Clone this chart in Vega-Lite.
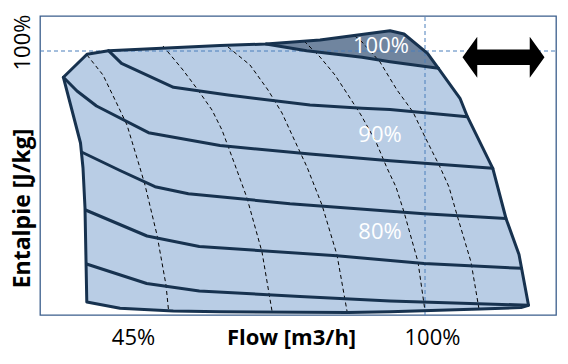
{
  "$schema": "https://vega.github.io/schema/vega-lite/v6.json",
  "width": 516,
  "height": 299,
  "autosize": "none",
  "padding": {"left": 40, "top": 16, "right": 12, "bottom": 49},
  "background": "white",
  "config": {
    "view": {"stroke": "#3b5e8c", "strokeWidth": 1.3},
    "font": "Open Sans"
  },
  "datasets": {
    "curves": [
      {"c": "o", "i": 1, "x": 23.4, "y": 237.7},
      {"c": "o", "i": 2, "x": 47, "y": 260.7},
      {"c": "o", "i": 3, "x": 68.5, "y": 264.3},
      {"c": "o", "i": 4, "x": 180, "y": 269.5},
      {"c": "o", "i": 5, "x": 226, "y": 271},
      {"c": "o", "i": 6, "x": 280, "y": 275},
      {"c": "o", "i": 7, "x": 350, "y": 284.3},
      {"c": "o", "i": 8, "x": 364, "y": 281},
      {"c": "o", "i": 9, "x": 387.5, "y": 261.7},
      {"c": "o", "i": 10, "x": 398.4, "y": 246.7},
      {"c": "o", "i": 11, "x": 420, "y": 216.7},
      {"c": "o", "i": 12, "x": 427.4, "y": 198.3},
      {"c": "o", "i": 13, "x": 452.8, "y": 146.7},
      {"c": "o", "i": 14, "x": 466, "y": 96.5},
      {"c": "o", "i": 15, "x": 479, "y": 60.5},
      {"c": "o", "i": 16, "x": 488.5, "y": 9.8},
      {"c": "o", "i": 17, "x": 481, "y": 7.5},
      {"c": "o", "i": 18, "x": 440, "y": 6},
      {"c": "o", "i": 19, "x": 350, "y": 3.3},
      {"c": "o", "i": 20, "x": 308, "y": 2.5},
      {"c": "o", "i": 21, "x": 180, "y": 3.3},
      {"c": "o", "i": 22, "x": 133.3, "y": 4},
      {"c": "o", "i": 23, "x": 80, "y": 6.7},
      {"c": "o", "i": 24, "x": 46.8, "y": 13},
      {"c": "o", "i": 25, "x": 45, "y": 107},
      {"c": "o", "i": 26, "x": 43, "y": 147},
      {"c": "o", "i": 27, "x": 40.5, "y": 172},
      {"c": "o", "i": 28, "x": 23.4, "y": 237.7},
      {"c": "s1", "i": 1, "x": 226, "y": 271},
      {"c": "s1", "i": 2, "x": 266.7, "y": 264.3},
      {"c": "s1", "i": 3, "x": 322, "y": 257.7},
      {"c": "s1", "i": 4, "x": 350, "y": 253.3},
      {"c": "s1", "i": 5, "x": 398.4, "y": 246.7},
      {"c": "s2", "i": 1, "x": 68.5, "y": 264.3},
      {"c": "s2", "i": 2, "x": 81.5, "y": 251.7},
      {"c": "s2", "i": 3, "x": 133.5, "y": 227.7},
      {"c": "s2", "i": 4, "x": 188, "y": 220},
      {"c": "s2", "i": 5, "x": 270, "y": 210},
      {"c": "s2", "i": 6, "x": 322, "y": 206.7},
      {"c": "s2", "i": 7, "x": 350, "y": 205.5},
      {"c": "s2", "i": 8, "x": 427.4, "y": 198.3},
      {"c": "s3", "i": 1, "x": 23.4, "y": 237.7},
      {"c": "s3", "i": 2, "x": 37, "y": 224},
      {"c": "s3", "i": 3, "x": 56.5, "y": 209},
      {"c": "s3", "i": 4, "x": 108.5, "y": 182.3},
      {"c": "s3", "i": 5, "x": 180, "y": 169.5},
      {"c": "s3", "i": 6, "x": 270, "y": 161},
      {"c": "s3", "i": 7, "x": 350, "y": 154.3},
      {"c": "s3", "i": 8, "x": 452.8, "y": 146.7},
      {"c": "s4", "i": 1, "x": 41.5, "y": 163},
      {"c": "s4", "i": 2, "x": 80, "y": 144.5},
      {"c": "s4", "i": 3, "x": 115, "y": 128.3},
      {"c": "s4", "i": 4, "x": 148.4, "y": 121.3},
      {"c": "s4", "i": 5, "x": 250, "y": 111.3},
      {"c": "s4", "i": 6, "x": 384, "y": 101.3},
      {"c": "s4", "i": 7, "x": 466, "y": 96.5},
      {"c": "s5", "i": 1, "x": 45.5, "y": 105},
      {"c": "s5", "i": 2, "x": 107, "y": 79},
      {"c": "s5", "i": 3, "x": 159.3, "y": 68.5},
      {"c": "s5", "i": 4, "x": 296.7, "y": 59.3},
      {"c": "s5", "i": 5, "x": 384, "y": 51.5},
      {"c": "s5", "i": 6, "x": 481.5, "y": 46.7},
      {"c": "s6", "i": 1, "x": 46.5, "y": 51},
      {"c": "s6", "i": 2, "x": 106.7, "y": 31.5},
      {"c": "s6", "i": 3, "x": 159.3, "y": 24},
      {"c": "s6", "i": 4, "x": 260, "y": 18.5},
      {"c": "s6", "i": 5, "x": 350, "y": 14},
      {"c": "s6", "i": 6, "x": 488.5, "y": 9.8}
    ],
    "dark": [
      {"i": 1, "x": 226, "y": 271},
      {"i": 2, "x": 280, "y": 275},
      {"i": 3, "x": 350, "y": 284.3},
      {"i": 4, "x": 364, "y": 281},
      {"i": 5, "x": 387.5, "y": 261.7},
      {"i": 6, "x": 398.4, "y": 246.7},
      {"i": 7, "x": 350, "y": 253.3},
      {"i": 8, "x": 322, "y": 257.7},
      {"i": 9, "x": 266.7, "y": 264.3},
      {"i": 10, "x": 226, "y": 271}
    ],
    "dashes": [
      {"d": "d1", "i": 1, "x": 47, "y": 260},
      {"d": "d1", "i": 2, "x": 63, "y": 240},
      {"d": "d1", "i": 3, "x": 78, "y": 209},
      {"d": "d1", "i": 4, "x": 87, "y": 190},
      {"d": "d1", "i": 5, "x": 100, "y": 147},
      {"d": "d1", "i": 6, "x": 105, "y": 130},
      {"d": "d1", "i": 7, "x": 117, "y": 80},
      {"d": "d1", "i": 8, "x": 126, "y": 30},
      {"d": "d1", "i": 9, "x": 128.5, "y": 5},
      {"d": "d2", "i": 1, "x": 123, "y": 269},
      {"d": "d2", "i": 2, "x": 143, "y": 245},
      {"d": "d2", "i": 3, "x": 158, "y": 225},
      {"d": "d2", "i": 4, "x": 172, "y": 205},
      {"d": "d2", "i": 5, "x": 182, "y": 185},
      {"d": "d2", "i": 6, "x": 195, "y": 150},
      {"d": "d2", "i": 7, "x": 207, "y": 117},
      {"d": "d2", "i": 8, "x": 222, "y": 63},
      {"d": "d2", "i": 9, "x": 232, "y": 4},
      {"d": "d3", "i": 1, "x": 188, "y": 268},
      {"d": "d3", "i": 2, "x": 210, "y": 250},
      {"d": "d3", "i": 3, "x": 228, "y": 225},
      {"d": "d3", "i": 4, "x": 242, "y": 202},
      {"d": "d3", "i": 5, "x": 253, "y": 178},
      {"d": "d3", "i": 6, "x": 267, "y": 148},
      {"d": "d3", "i": 7, "x": 282, "y": 110},
      {"d": "d3", "i": 8, "x": 297, "y": 60},
      {"d": "d3", "i": 9, "x": 307, "y": 4},
      {"d": "d4", "i": 1, "x": 264, "y": 274},
      {"d": "d4", "i": 2, "x": 280, "y": 258},
      {"d": "d4", "i": 3, "x": 295, "y": 240},
      {"d": "d4", "i": 4, "x": 310, "y": 217},
      {"d": "d4", "i": 5, "x": 321, "y": 200},
      {"d": "d4", "i": 6, "x": 336, "y": 173},
      {"d": "d4", "i": 7, "x": 347, "y": 147},
      {"d": "d4", "i": 8, "x": 356, "y": 128},
      {"d": "d4", "i": 9, "x": 364, "y": 103},
      {"d": "d4", "i": 10, "x": 378, "y": 53},
      {"d": "d4", "i": 11, "x": 385, "y": 4},
      {"d": "d5", "i": 1, "x": 315, "y": 279},
      {"d": "d5", "i": 2, "x": 322, "y": 273},
      {"d": "d5", "i": 3, "x": 340, "y": 253},
      {"d": "d5", "i": 4, "x": 357, "y": 225},
      {"d": "d5", "i": 5, "x": 373, "y": 203},
      {"d": "d5", "i": 6, "x": 385, "y": 178},
      {"d": "d5", "i": 7, "x": 400, "y": 148},
      {"d": "d5", "i": 8, "x": 409, "y": 128},
      {"d": "d5", "i": 9, "x": 417, "y": 100},
      {"d": "d5", "i": 10, "x": 431, "y": 53},
      {"d": "d5", "i": 11, "x": 439, "y": 6}
    ],
    "refs": [
      {"x": 385, "x2": 385, "y": 0, "y2": 299},
      {"x": 0, "x2": 516, "y": 264, "y2": 264}
    ],
    "labels": [
      {"x": 341, "y": 269, "text": "100%"},
      {"x": 340, "y": 180, "text": "90%"},
      {"x": 340, "y": 83, "text": "80%"}
    ],
    "arrow": [
      {"x": 463.5, "y": 257.7}
    ]
  },
  "encoding": {
    "x": {
      "field": "x",
      "type": "quantitative",
      "scale": {"domain": [0, 516], "nice": false, "zero": false},
      "axis": {
        "values": [93, 392],
        "labelExpr": "datum.value < 200 ? '45%' : '100%'",
        "grid": false,
        "domain": false,
        "ticks": false,
        "tickSize": 0,
        "labelFlush": false,
        "labelFont": "Open Sans",
        "labelFontSize": 22,
        "labelColor": "#000000",
        "labelBaseline": "middle",
        "labelPadding": 22,
        "title": "Flow [m3/h]",
        "titleFont": "Open Sans",
        "titleFontSize": 22,
        "titleFontWeight": "bold",
        "titleColor": "#000000",
        "titleX": 251,
        "titleY": 22.5,
        "titleAlign": "center",
        "titleBaseline": "middle"
      }
    },
    "y": {
      "field": "y",
      "type": "quantitative",
      "scale": {"domain": [0, 299], "nice": false, "zero": false},
      "axis": {
        "values": [273],
        "labelExpr": "'100%'",
        "grid": false,
        "domain": false,
        "ticks": false,
        "tickSize": 0,
        "labelFlush": false,
        "labelAngle": -90,
        "labelAlign": "center",
        "labelBaseline": "middle",
        "labelPadding": 17.5,
        "labelFont": "Open Sans",
        "labelFontSize": 22,
        "labelColor": "#000000",
        "title": "Entalpie [J/kg]",
        "titleFont": "Open Sans",
        "titleFontSize": 23,
        "titleFontWeight": "bold",
        "titleColor": "#000000",
        "titleAngle": -90,
        "titleX": -17.5,
        "titleY": 192,
        "titleAlign": "center",
        "titleBaseline": "middle"
      }
    }
  },
  "layer": [
    {
      "data": {"name": "curves"},
      "transform": [{"filter": "datum.c == 'o'"}],
      "mark": {"type": "line", "fill": "#b9cde5", "strokeWidth": 0, "stroke": null},
      "encoding": {"order": {"field": "i", "type": "quantitative"}}
    },
    {
      "data": {"name": "dark"},
      "mark": {"type": "line", "fill": "#70859f", "strokeWidth": 0, "stroke": null},
      "encoding": {"order": {"field": "i", "type": "quantitative"}}
    },
    {
      "data": {"name": "refs"},
      "mark": {"type": "rule", "color": "#4a7ebb", "strokeWidth": 1, "strokeDash": [4, 3]},
      "encoding": {"x2": {"field": "x2"}, "y2": {"field": "y2"}}
    },
    {
      "data": {"name": "dashes"},
      "mark": {"type": "line", "color": "#000000", "strokeWidth": 1, "strokeDash": [4, 3]},
      "encoding": {
        "detail": {"field": "d", "type": "nominal"},
        "order": {"field": "i", "type": "quantitative"}
      }
    },
    {
      "data": {"name": "curves"},
      "mark": {"type": "line", "color": "#17324f", "strokeWidth": 3, "strokeJoin": "round", "strokeCap": "round"},
      "encoding": {
        "detail": {"field": "c", "type": "nominal"},
        "order": {"field": "i", "type": "quantitative"}
      }
    },
    {
      "data": {"name": "labels"},
      "mark": {"type": "text", "color": "#ffffff", "font": "Open Sans", "fontSize": 22, "align": "center", "baseline": "middle"},
      "encoding": {"text": {"field": "text", "type": "nominal"}}
    },
    {
      "data": {"name": "arrow"},
      "mark": {
        "type": "point",
        "filled": true,
        "color": "#000000",
        "opacity": 1,
        "size": 6724,
        "shape": "M -1 0 L -0.64 -0.5 L -0.64 -0.19 L 0.64 -0.19 L 0.64 -0.5 L 1 0 L 0.64 0.5 L 0.64 0.19 L -0.64 0.19 L -0.64 0.5 Z"
      }
    }
  ]
}
